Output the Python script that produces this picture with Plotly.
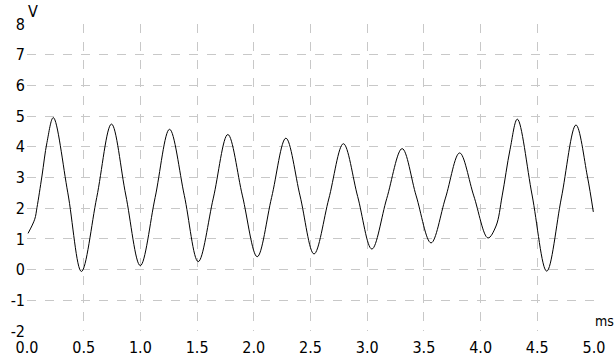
import plotly.graph_objects as go

time_ms = [0.009, 0.068, 0.088, 0.132, 0.176, 0.232,
           0.36, 0.480,
           0.615, 0.745,
           0.871, 0.999,
           1.13, 1.257,
           1.387, 1.510,
           1.643, 1.771,
           1.90, 2.030,
           2.157, 2.283,
           2.408, 2.531,
           2.661, 2.790,
           2.916, 3.041,
           3.172, 3.308,
           3.432, 3.563,
           3.69, 3.815,
           3.94, 4.065,
           4.136, 4.19, 4.26, 4.324,
           4.454, 4.583,
           4.712, 4.841,
           4.941, 4.994]
voltage = [1.18, 1.64, 2.02, 3.05, 4.14, 4.95,
           2.5, -0.06,
           2.35, 4.74,
           2.43, 0.13,
           2.35, 4.57,
           2.42, 0.26,
           2.33, 4.40,
           2.40, 0.42,
           2.35, 4.28,
           2.40, 0.51,
           2.30, 4.10,
           2.38, 0.67,
           2.31, 3.94,
           2.40, 0.87,
           2.33, 3.80,
           2.40, 1.03,
           1.42, 2.40, 3.92, 4.90,
           2.43, -0.05,
           2.33, 4.71,
           3.05, 1.88]

x_ticks = [0.0, 0.5, 1.0, 1.5, 2.0, 2.5, 3.0, 3.5, 4.0, 4.5, 5.0]
y_ticks = [-2, -1, 0, 1, 2, 3, 4, 5, 6, 7, 8]

FONT = "Liberation Sans Narrow, DejaVu Sans Condensed, Arial Narrow, sans-serif"

fig = go.Figure(go.Scatter(
    x=time_ms, y=voltage, mode="lines",
    line=dict(color="black", width=1, shape="spline", smoothing=1.0),
    hoverinfo="skip", showlegend=False))

grid = dict(showgrid=True, gridcolor="#c8c8c8", gridwidth=1, griddash="dash",
            zeroline=False, showline=False, ticks="", automargin=False,
            tickfont=dict(family=FONT, size=16, color="black"))

fig.update_xaxes(range=[0, 5], tickvals=x_ticks, ticklabelstandoff=5,
                 ticktext=[f"{v:.1f}" for v in x_ticks], **grid)
fig.update_yaxes(range=[-2, 8], tickvals=y_ticks,
                 ticktext=[str(v) for v in y_ticks], ticklabelstandoff=1, **grid)

fig.add_annotation(text="V", xref="paper", yref="paper", x=0, y=1,
                   xanchor="left", yanchor="bottom", showarrow=False,
                   xshift=-1, yshift=1,
                   font=dict(family=FONT, size=16, color="black"))
fig.add_annotation(text="ms", xref="paper", yref="y", x=1, y=-2,
                   xanchor="left", yanchor="bottom", showarrow=False,
                   xshift=-1, yshift=0,
                   font=dict(family=FONT, size=14, color="black"))

fig.update_layout(width=616, height=360,
                  margin=dict(l=27, r=22, t=24, b=29),
                  paper_bgcolor="white", plot_bgcolor="white")

fig.write_html("out.html")
